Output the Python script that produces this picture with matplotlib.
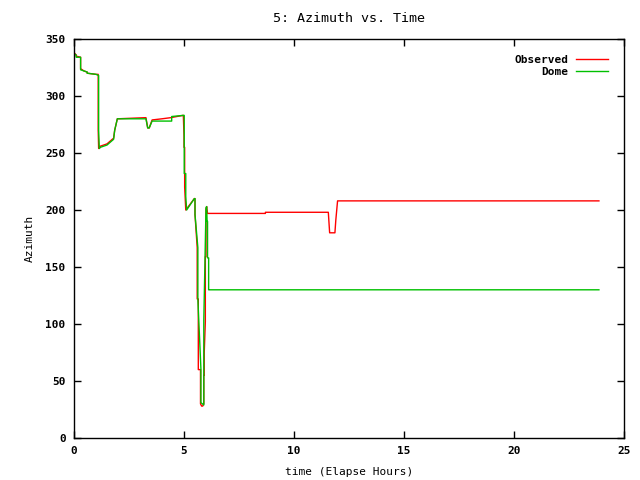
import matplotlib
matplotlib.use("Agg")
import matplotlib.pyplot as plt

# observed azimuth (elapsed hours, degrees)
obs_t = [0.0, 0.1, 0.1, 0.3, 0.3, 0.45, 0.6, 0.6, 1.0, 1.1, 1.1, 1.12, 1.15,
         1.2, 1.5, 1.8, 1.85, 1.97, 3.27, 3.35, 3.42, 3.55, 4.0, 4.4, 4.95,
         4.97, 5.0, 5.0, 5.03, 5.03, 5.08, 5.47, 5.5, 5.5, 5.6, 5.6, 5.65,
         5.65, 5.75, 5.75, 5.8, 5.85, 5.9, 5.9, 5.92, 5.92, 5.97, 5.97, 6.0,
         6.0, 6.03, 6.07, 6.15, 8.7, 8.7, 11.56, 11.62, 11.86, 11.9, 11.98,
         23.86]
obs_az = [338, 336, 335, 334, 324, 322, 321, 320, 319, 319, 270, 254, 254,
          256, 258, 263, 270, 280, 281, 272, 272, 279, 280, 281, 283,
          283, 265, 255, 255, 220, 200, 210, 210, 196, 167, 122, 122,
          60, 60, 30, 28, 28, 30, 55, 55, 75, 102, 159, 159,
          201, 203, 197, 197, 197, 198, 198, 180, 180, 191, 208,
          208]

# dome azimuth
dome_t = [0.0, 0.1, 0.1, 0.3, 0.3, 0.45, 0.6, 0.6, 1.0, 1.12, 1.12, 1.15,
          1.2, 1.5, 1.8, 1.85, 1.97, 3.27, 3.35, 3.42, 3.55, 4.44, 4.44,
          4.97, 5.01, 5.01, 5.08, 5.08, 5.12, 5.47, 5.5, 5.5, 5.63, 5.63,
          5.77, 5.77, 5.9, 5.9, 6.0, 6.03, 6.05, 6.07, 6.07, 6.12, 6.12,
          6.15, 23.86]
dome_az = [337, 336, 334, 334, 323, 322, 321, 320, 319, 318, 270, 254,
           255, 257, 262, 270, 280, 280, 272, 272, 278, 278, 282,
           283, 283, 232, 232, 212, 200, 210, 210, 196, 167, 122,
           60, 31, 29, 103, 202, 203, 190, 190, 158, 158, 130,
           130, 130]

plt.rcParams["font.family"] = "DejaVu Sans Mono"
plt.rcParams["font.weight"] = "bold"
plt.rcParams["font.size"] = 8

fig = plt.figure(figsize=(6.4, 4.8), dpi=100)
ax = fig.add_axes([74 / 640, 42 / 480, 550 / 640, 399 / 480])

ax.plot(obs_t, obs_az, color="#ff0000", lw=1, label="Observed")
ax.plot(dome_t, dome_az, color="#00c000", lw=1, label="Dome")

ax.set_xlim(0, 25)
ax.set_ylim(0, 350)
ax.set_xticks(range(0, 26, 5))
ax.set_yticks(range(0, 351, 50))
ax.tick_params(direction="in", top=True, right=True, length=5, width=1, pad=6)
for s in ax.spines.values():
    s.set_linewidth(1)

ax.set_title("5: Azimuth vs. Time", pad=12)
ax.set_xlabel("time (Elapse Hours)", labelpad=8)
ax.set_ylabel("Azimuth", labelpad=8)
ax.legend(loc="upper right", frameon=False, markerfirst=False,
          handlelength=2.9, handletextpad=0.7, labelspacing=0.2,
          borderaxespad=1.0)

fig.savefig("out.png")
